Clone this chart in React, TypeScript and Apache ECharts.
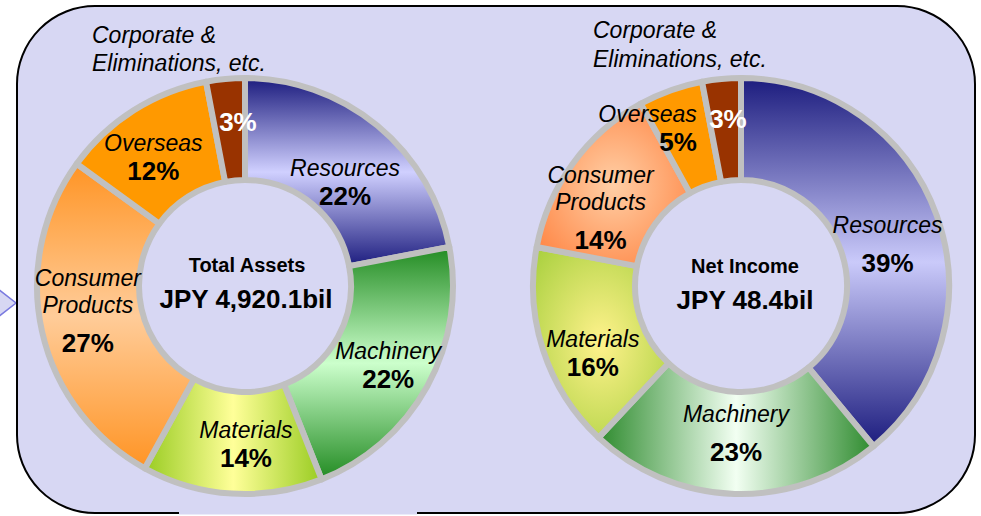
import React, { useEffect, useRef } from "react";
import * as echarts from "echarts";

const categories = ["Resources", "Machinery", "Materials", "Consumer Products", "Overseas", "Corporate & Eliminations, etc."];
const assetShares = [22, 22, 14, 27, 12, 3];
const incomeShares = [39, 23, 16, 14, 5, 3];
const assetTitle = "Total Assets";
const assetTotal = "JPY 4,920.1bil";
const incomeTitle = "Net Income";
const incomeTotal = "JPY 48.4bil";

const FONT = "'Liberation Sans', Arial, sans-serif";
const BG = "#d7d7f3";

const lin = (x2: number, y2: number, a: string, b: string) => ({
  type: "linear", x: 0, y: 0, x2, y2,
  colorStops: [{ offset: 0, color: a }, { offset: 0.5, color: b }, { offset: 1, color: a }],
});
const rad = (inner: string, outer: string) => ({
  type: "radial", x: 0.5, y: 0.5, r: 0.7,
  colorStops: [{ offset: 0, color: inner }, { offset: 1, color: outer }],
});

const leftColors = [
  lin(0, 1, "#1c1c7e", "#d0d0ff"),
  lin(0, 1, "#228b22", "#ccffcc"),
  lin(1, 0, "#99cc22", "#ffff99"),
  lin(0, 1, "#ff9424", "#ffcc99"),
  "#ff9900",
  "#993300",
];
const rightColors = [
  lin(0, 1, "#1c1c7e", "#cacafa"),
  lin(1, 0, "#2e8b2e", "#f2fff2"),
  rad("#fff28c", "#a6cf3c"),
  rad("#ffcfa6", "#ff7e3a"),
  "#ff9900",
  "#993300",
];

// label offsets [dx, dy] per slice (layout only)
const leftOffsets = [[-2, 20], [3, 2], [11, -1], [-1, -10], [-6, 7], [8, -5]];
const rightOffsets = [[-4, 13], [0, -12], [4, 18], [-11, 16], [10, -7], [2, -8]];

function makeSeries(values: number[], colors: any[], center: number[], offsets: number[][], right: boolean) {
  return {
    type: "pie",
    center,
    radius: [106, 208],
    startAngle: 90,
    clockwise: true,
    silent: true,
    data: values.map((v, i) => ({
      name: categories[i],
      value: v,
      itemStyle: { color: colors[i] },
    })),
    itemStyle: { borderColor: "#c0c0c0", borderWidth: 6 },
    label: {
      show: true,
      position: "inside",
      fontFamily: FONT,
      formatter: (p: any) => {
        if (p.dataIndex === 5) return `{w|${p.value}%}`;
        if (right && p.dataIndex === 4) return `{n|${p.name}}\n{pr|${p.value}%}`;
        const name = p.name === "Consumer Products" ? "{n|Consumer}\n{n|Products}\n{s|}" : `{n|${p.name}}`;
        const gap = right && (p.dataIndex === 0 || p.dataIndex === 1) ? "\n{s|}" : "";
        return `${name}${gap}\n{p|${p.value}%}`;
      },
      rich: {
        n: { fontFamily: FONT, fontStyle: "italic", fontSize: 23, lineHeight: 27, color: "#000" },
        p: { fontFamily: FONT, fontWeight: "bold", fontSize: 26, lineHeight: 29, color: "#000" },
        pr: { fontFamily: FONT, fontWeight: "bold", fontSize: 26, lineHeight: 29, color: "#000", align: "right" },
        s: { fontSize: 8, lineHeight: 10 },
        w: { fontFamily: FONT, fontWeight: "bold", fontSize: 26, lineHeight: 29, color: "#fff" },
      },
    },
    labelLine: { show: false },
    labelLayout: (p: any) => {
      const o = offsets[p.dataIndex];
      if (right && p.dataIndex === 4) return { dx: o[0], dy: o[1], align: "right" };
      return { dx: o[0], dy: o[1] };
    },
  };
}

export default function App() {
  const ref = useRef<HTMLDivElement>(null);
  useEffect(() => {
    if (!ref.current) return;
    const chart = echarts.init(ref.current, undefined, { renderer: "svg" });
    const textStyle = (t: string, size: number) => ({
      text: t, fill: "#000", font: `bold ${size}px ${FONT}`, textAlign: "center", textVerticalAlign: "middle",
    });
    chart.setOption({
      animation: false,
      graphic: [
        { type: "polygon", z: 0, shape: { points: [[-2, 289], [16, 303], [-2, 317]] }, style: { fill: BG, stroke: "#7a7ae0", lineWidth: 1.5 } },
        { type: "rect", z: 0, shape: { x: 17, y: 6, width: 958, height: 507, r: 78 }, style: { fill: BG, stroke: "#000", lineWidth: 2 } },
        { type: "line", z: 1, shape: { x1: 179, y1: 513, x2: 417, y2: 513 }, style: { stroke: BG, lineWidth: 3 } },
        { type: "text", z: 100, x: 92, y: 21, style: { text: "Corporate &\nEliminations, etc.", fill: "#000", font: `italic 23px ${FONT}`, lineHeight: 28 } },
        { type: "text", z: 100, x: 593, y: 15, style: { text: "Corporate &\nEliminations, etc.", fill: "#000", font: `italic 23px ${FONT}`, lineHeight: 29 } },
        { type: "text", z: 100, x: 247, y: 265, style: textStyle(assetTitle, 20) },
        { type: "text", z: 100, x: 246, y: 299, style: textStyle(assetTotal, 26) },
        { type: "text", z: 100, x: 745, y: 266, style: textStyle(incomeTitle, 20) },
        { type: "text", z: 100, x: 745, y: 300, style: textStyle(incomeTotal, 26) },
      ],
      series: [
        makeSeries(assetShares, leftColors, [245, 286], leftOffsets, false),
        makeSeries(incomeShares, rightColors, [741, 286], rightOffsets, true),
      ],
    });
    return () => chart.dispose();
  }, []);
  return (
    <div
      ref={ref}
      style={{ position: "fixed", left: 0, top: 0, width: 981, height: 516, background: "#fff" }}
    />
  );
}
